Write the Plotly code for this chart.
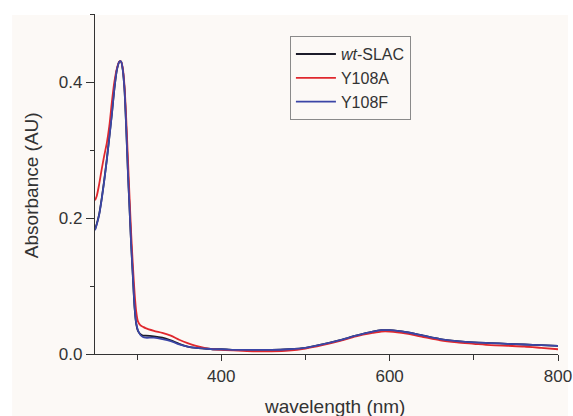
import plotly.graph_objects as go

wavelength = [250, 252, 255, 258, 261, 264, 267, 270, 273, 276, 279, 281, 283, 285, 287,
              289, 291, 293, 295, 297, 299, 301, 304, 307, 310, 320, 330, 340, 350, 360,
              370, 380, 390, 400, 420, 440, 460, 480, 500, 520, 540, 560, 580, 590, 600,
              620, 640, 660, 680, 700, 720, 740, 760, 780, 800]

wt_slac = [0.183, 0.191, 0.206, 0.229, 0.256, 0.286, 0.319, 0.353, 0.390, 0.418, 0.430, 0.430, 0.418, 0.390, 0.335,
           0.272, 0.215, 0.160, 0.113, 0.068, 0.044, 0.034, 0.029, 0.027, 0.027, 0.026, 0.024, 0.020, 0.015, 0.011,
           0.009, 0.008, 0.007, 0.007, 0.006, 0.006, 0.006, 0.007, 0.009, 0.014, 0.020, 0.027, 0.033, 0.035, 0.035,
           0.032, 0.027, 0.022, 0.019, 0.017, 0.016, 0.015, 0.014, 0.013, 0.012]

y108a = [0.226, 0.232, 0.250, 0.272, 0.292, 0.310, 0.335, 0.370, 0.400, 0.420, 0.430, 0.430, 0.420, 0.395, 0.348,
         0.290, 0.232, 0.176, 0.130, 0.090, 0.062, 0.048, 0.042, 0.040, 0.038, 0.034, 0.031, 0.027, 0.021, 0.016,
         0.012, 0.009, 0.007, 0.006, 0.005, 0.004, 0.004, 0.005, 0.008, 0.013, 0.019, 0.026, 0.031, 0.033, 0.033,
         0.030, 0.025, 0.020, 0.017, 0.015, 0.013, 0.012, 0.011, 0.009, 0.007]

y108f = [0.182, 0.190, 0.205, 0.228, 0.255, 0.285, 0.318, 0.352, 0.390, 0.418, 0.430, 0.430, 0.418, 0.390, 0.335,
         0.270, 0.215, 0.160, 0.115, 0.070, 0.045, 0.035, 0.028, 0.025, 0.024, 0.024, 0.022, 0.019, 0.014, 0.011,
         0.009, 0.008, 0.007, 0.007, 0.006, 0.006, 0.006, 0.007, 0.009, 0.014, 0.020, 0.027, 0.033, 0.035, 0.035,
         0.032, 0.027, 0.022, 0.019, 0.017, 0.016, 0.015, 0.014, 0.013, 0.012]

series_names = ["<i>wt</i>-SLAC", "Y108A", "Y108F"]
series_colors = ["#1c1c2a", "#e0282e", "#3b46a6"]
x_title = "wavelength (nm)"
y_title = "Absorbance (AU)"

fig = go.Figure()
for name, vals, col in zip(series_names, [wt_slac, y108a, y108f], series_colors):
    fig.add_trace(go.Scatter(x=wavelength, y=vals, mode="lines", name=name,
                             line=dict(color=col, width=1.8, shape="spline", smoothing=0.7)))

font_family = "Liberation Sans, Arial, sans-serif"
fig.update_layout(
    width=573, height=416,
    margin=dict(l=95, r=15, t=14, b=62, autoexpand=False),
    paper_bgcolor="white",
    plot_bgcolor="rgba(0,0,0,0)",
    font=dict(family=font_family, size=17, color="#333333"),
    showlegend=True,
    legend=dict(x=0.421, y=0.935, xanchor="left", yanchor="top",
                bordercolor="#8a8a8a", borderwidth=1, bgcolor="#fcf9f6",
                font=dict(size=16, color="#333333"), tracegroupgap=0,
                itemwidth=40),
    shapes=[dict(type="rect", xref="paper", yref="paper", x0=-0.179, x1=1.0216,
                 y0=-0.182, y1=0.997, fillcolor="#fcf9f6", line=dict(width=0), layer="below")],
    annotations=[
        dict(text=x_title, xref="paper", yref="paper", x=0.518, y=-0.153,
             xanchor="center", yanchor="middle", showarrow=False,
             font=dict(size=19, color="#333333")),
        dict(text=y_title, xref="paper", yref="paper", x=-0.138, y=0.497,
             xanchor="center", yanchor="middle", showarrow=False, textangle=-90,
             font=dict(size=19, color="#333333")),
    ],
)
fig.update_xaxes(range=[250, 800], showgrid=False, zeroline=False, automargin=False,
                 showline=True, linecolor="#333333", linewidth=1.2,
                 ticks="outside", ticklen=6, tickcolor="#333333", tick0=0, dtick=200,
                 minor=dict(dtick=100, tick0=0, ticks="outside", ticklen=5, tickcolor="#333333"))
fig.update_yaxes(range=[0, 0.5], showgrid=False, zeroline=False, automargin=False,
                 showline=True, linecolor="#333333", linewidth=1.2,
                 ticks="outside", ticklen=8, tickcolor="#333333", tick0=0, dtick=0.2,
                 tickformat=".1f",
                 minor=dict(dtick=0.1, tick0=0, ticks="outside", ticklen=4, tickcolor="#333333"))

fig.write_html("out.html",
               config={"displayModeBar": False},
               post_script="document.body.style.margin='0';document.body.style.overflow='hidden';")
